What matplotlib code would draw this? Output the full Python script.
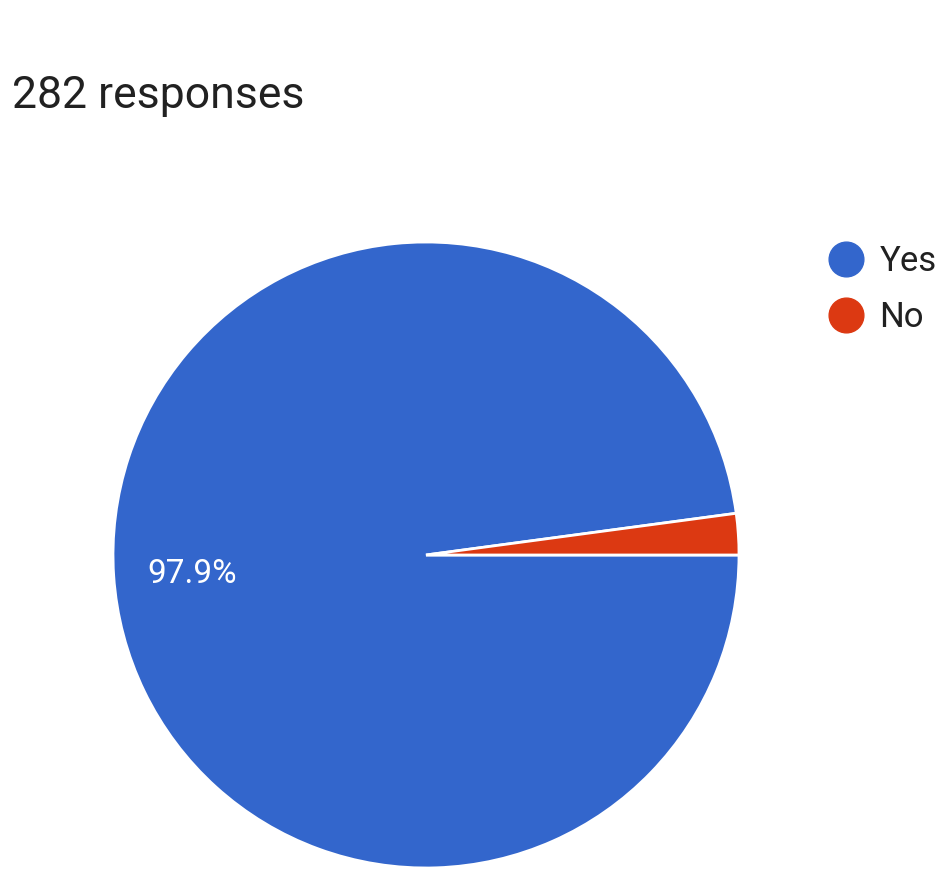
import matplotlib
matplotlib.use("Agg")
import matplotlib.pyplot as plt
from matplotlib.lines import Line2D

plt.rcParams['font.family'] = ['Roboto', 'DejaVu Sans']

# data
labels = ['Yes', 'No']
counts = [276, 6]
colors = ['#3366CC', '#DC3912']
title = '282 responses'

W, H = 949, 881
fig = plt.figure(figsize=(W / 100, H / 100), dpi=100)

# pie: centre (426, 555), radius 313 px
cx, cy, r = 426, 555, 313
ax = fig.add_axes([(cx - r) / W, (H - cy - r) / H, 2 * r / W, 2 * r / H])
wedges, texts, autotexts = ax.pie(
    counts, colors=colors, startangle=0, counterclock=False,
    autopct=lambda p: f'{p:.1f}%' if p > 5 else '', pctdistance=0.75,
    wedgeprops=dict(edgecolor='white', linewidth=2),
    textprops=dict(color='white', fontsize=24))
# nudge the percentage label a little lower, as in the original
for t in autotexts:
    x, y = t.get_position()
    t.set_position((x, y - 0.012))
ax.set_xlim(-1, 1)
ax.set_ylim(-1, 1)
ax.set_aspect('equal')
ax.axis('off')

fig.text(12 / W, 1 - 108 / H, title, fontsize=32, color='#212121',
         ha='left', va='baseline')

handles = [Line2D([], [], marker='o', linestyle='', markersize=25,
                  markerfacecolor=c, markeredgecolor=c) for c in colors]
fig.legend(handles, labels, loc='upper left',
           bbox_to_anchor=(829 / W, 1 - 245 / H), frameon=False,
           fontsize=25, labelcolor='#212121', handlelength=1.0,
           handletextpad=0.45, labelspacing=0.66, borderaxespad=0,
           borderpad=0)

fig.savefig('out.png', dpi=100)
